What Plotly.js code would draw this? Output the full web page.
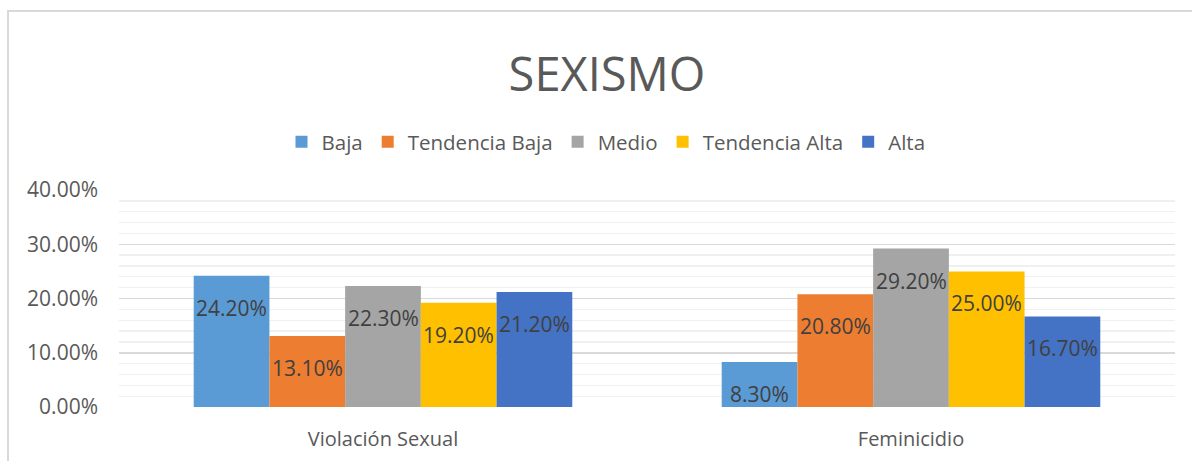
<!DOCTYPE html>
<html>
<head>
<meta charset="utf-8">
<script src="https://cdn.plot.ly/plotly-3.0.1.min.js"></script>
<style>
  html, body { margin:0; padding:0; background:#fff; overflow:hidden; }
  #chart { position:absolute; left:0; top:0; width:1192px; height:461px; }
  #frame { position:absolute; left:7px; top:10px; width:1300px; height:600px;
           border-left:2px solid #d9d9d9; border-top:2px solid #d9d9d9; pointer-events:none; }
</style>
</head>
<body>
<div id="chart"></div>
<div id="frame"></div>
<script>
const categories = ['Violación Sexual', 'Feminicidio'];
const seriesNames = ['Baja', 'Tendencia Baja', 'Medio', 'Tendencia Alta', 'Alta'];
const baja = [24.2, 8.3];
const tendenciaBaja = [13.1, 20.8];
const medio = [22.3, 29.2];
const tendenciaAlta = [19.2, 25.0];
const alta = [21.2, 16.7];
const yTickVals = [0, 10, 20, 30, 40];
const yTickText = ['0.00%', '10.00%', '20.00%', '30.00%', '40.00%'];

const seriesValues = [baja, tendenciaBaja, medio, tendenciaAlta, alta];
const colors = ['#5B9BD5', '#ED7D31', '#A5A5A5', '#FFC000', '#4472C4'];
const FONT = '"Open Sans", "Noto Sans", sans-serif';
const bargap = 0.283;

const traces = seriesValues.map((vals, s) => ({
  type: 'bar',
  name: seriesNames[s],
  x: categories,
  y: vals,
  marker: { color: colors[s], line: { width: 0 } },
  hoverinfo: 'skip'
}));

const n = seriesValues.length;
const w = (1 - bargap) / n;
const annotations = [];
seriesValues.forEach((vals, s) => {
  vals.forEach((v, i) => {
    annotations.push({
      xref: 'x', yref: 'y',
      x: i + (s - (n - 1) / 2) * w,
      y: v,
      yanchor: 'middle', xanchor: 'center',
      yshift: -32,
      text: v.toFixed(2) + '%',
      showarrow: false,
      font: { family: FONT, size: 21, color: '#404040' }
    });
  });
});

const layout = {
  width: 1192, height: 461,
  margin: { l: 119.45, r: 17.15, t: 190.1, b: 54.1, pad: 0 },
  paper_bgcolor: '#ffffff', plot_bgcolor: '#ffffff',
  barmode: 'group', bargap: bargap, bargroupgap: 0,
  title: {
    text: 'SEXISMO',
    x: 607 / 1192, xanchor: 'center', xref: 'container',
    y: 1 - 75 / 461, yanchor: 'middle', yref: 'container',
    font: { family: FONT, size: 47, color: '#595959' }
  },
  showlegend: true,
  legend: {
    orientation: 'h',
    xref: 'container', yref: 'container',
    x: 606 / 1192, xanchor: 'center',
    y: 1 - 142 / 461, yanchor: 'middle',
    font: { family: FONT, size: 20.5, color: '#595959' },
    itemclick: false, itemdoubleclick: false,
    traceorder: 'normal'
  },
  xaxis: {
    type: 'category',
    showgrid: false, zeroline: false, showline: false,
    ticks: '', ticklabelstandoff: 18,
    tickfont: { family: FONT, size: 20, color: '#595959' },
    fixedrange: true
  },
  yaxis: {
    range: [0, 40],
    tickvals: yTickVals, ticktext: yTickText,
    showgrid: true, gridcolor: '#d9d9d9', gridwidth: 1.5,
    zeroline: false, showline: false, ticks: '',
    ticklabelstandoff: 20,
    tickfont: { family: FONT, size: 21, color: '#595959' },
    minor: { dtick: 2, showgrid: true, gridcolor: '#f0f0f0', gridwidth: 1.3 },
    fixedrange: true
  },
  annotations: annotations
};

Plotly.newPlot('chart', traces, layout, { staticPlot: true, displayModeBar: false });
</script>
</body>
</html>
